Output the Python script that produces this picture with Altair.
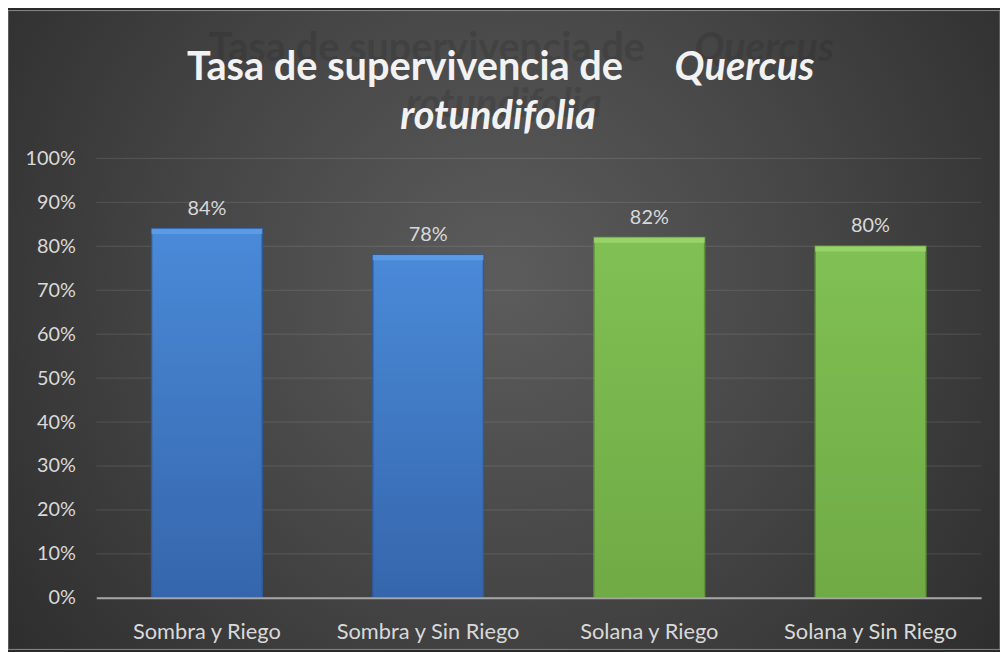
import altair as alt
import pandas as pd

categories = ["Sombra y Riego", "Sombra y Sin Riego", "Solana y Riego", "Solana y Sin Riego"]
values = [0.84, 0.78, 0.82, 0.80]
groups = ["Sombra", "Sombra", "Solana", "Solana"]
y_ticks = [0.0, 0.1, 0.2, 0.3, 0.4, 0.5, 0.6, 0.7, 0.8, 0.9, 1.0]
title_line1a = "Tasa de supervivencia de"
title_line1b = "Quercus"
title_line2 = "rotundifolia"

df = pd.DataFrame({"cat": categories, "val": values, "grp": groups})
ticks_df = pd.DataFrame({"t": y_ticks})
one = pd.DataFrame({"k": [0]})

W, H = 892, 443
PL, PT, PR, PB = 89, 149, 19, 52
FONT = "Lato"
LABEL_COLOR = "#d9d9d9"

xscale = alt.Scale(domain=categories, paddingInner=0.5, paddingOuter=0.25)
yscale = alt.Scale(domain=[0, 1])

bg = alt.Chart(one).mark_rect(
    fill=alt.RadialGradient(
        gradient="radial",
        stops=[alt.GradientStop(color="#5c5c5c", offset=0),
               alt.GradientStop(color="#454545", offset=0.45),
               alt.GradientStop(color="#262626", offset=1)],
        x1=0.5, y1=0.45, r1=0, x2=0.5, y2=0.45, r2=0.72),
    stroke="#8a8a8a", strokeWidth=1,
).encode(x=alt.value(-PL), x2=alt.value(W + PR), y=alt.value(-PT), y2=alt.value(H + PB))

grid = alt.Chart(ticks_df).mark_rule(color="#ffffff", opacity=0.12, strokeWidth=1).encode(
    y=alt.Y("t:Q", scale=yscale,
            axis=alt.Axis(title=None, format=".0%", values=y_ticks, grid=False, ticks=False,
                          domain=False, labelFontSize=20, labelColor=LABEL_COLOR,
                          labelFont=FONT, labelPadding=21, zindex=1))
)

xaxis = alt.Axis(title=None, labelAngle=0, labelFontSize=22, labelColor=LABEL_COLOR,
                 labelFont=FONT, labelPadding=24, labelLimit=0, ticks=False,
                 domainColor="#a6a6a6", domainWidth=2, zindex=1)


def bars_for(grp, top, bottom, stroke, hi):
    base = alt.Chart(df).transform_filter(alt.datum.grp == grp)
    body = base.mark_bar(
        fill=alt.LinearGradient(
            gradient="linear",
            stops=[alt.GradientStop(color=top, offset=0),
                   alt.GradientStop(color=bottom, offset=1)],
            x1=0, x2=0, y1=0, y2=1),
        stroke=stroke, strokeWidth=1.5,
    ).encode(
        x=alt.X("cat:N", sort=categories, scale=xscale, axis=xaxis),
        y=alt.Y("val:Q", scale=yscale),
    )
    bevel = base.transform_calculate(v2="datum.val - 0.012").mark_bar(
        fill=hi, opacity=0.9,
    ).encode(
        x=alt.X("cat:N", sort=categories, scale=xscale),
        y=alt.Y("val:Q", scale=yscale),
        y2="v2:Q",
    )
    return [body, bevel]


blue = bars_for("Sombra", "#4a8ad8", "#3566ac", "#2f5c98", "#5d9ce6")
green = bars_for("Solana", "#80c054", "#70aa45", "#5f9438", "#9ad46c")

labels = alt.Chart(df).mark_text(
    dy=-10, fontSize=20, font=FONT, color=LABEL_COLOR, baseline="bottom"
).encode(
    x=alt.X("cat:N", sort=categories, scale=xscale),
    y=alt.Y("val:Q", scale=yscale),
    text=alt.Text("val:Q", format=".0%"),
)


def txt(s, x, y, align, style="normal", color="#f2f2f2", opacity=1.0):
    return alt.Chart(one).mark_text(
        text=s, font=FONT, fontSize=40, fontWeight="bold", fontStyle=style,
        align=align, baseline="alphabetic", color=color, opacity=opacity,
    ).encode(x=alt.value(x), y=alt.value(y))


T1Y = 78 - 8 - PT
T2Y = 127 - 8 - PT
sh_c, sh_o = "#1e1e1e", 0.18
shadow = [
    txt(title_line1a, 650 - 8 - PL, T1Y - 19, "right", color=sh_c, opacity=sh_o),
    txt(title_line1b, 700 - 8 - PL, T1Y - 19, "left", "italic", color=sh_c, opacity=sh_o),
    txt(title_line2, 508 - 8 - PL, T2Y - 12, "center", "italic", color=sh_c, opacity=sh_o),
]
title = [
    txt(title_line1a, 628 - 8 - PL, T1Y, "right"),
    txt(title_line1b, 680 - 8 - PL, T1Y, "left", "italic"),
    txt(title_line2, 502 - 8 - PL, T2Y, "center", "italic"),
]

chart = alt.layer(bg, grid, *blue, *green, labels, *shadow, *title).properties(
    width=W, height=H,
    padding={"left": PL, "top": PT, "right": PR, "bottom": PB},
    autosize=alt.AutoSizeParams(type="none"),
    background="#2a2a2a",
).configure_view(stroke=None)

chart.save("out.html", embed_options={"renderer": "svg", "actions": False})
